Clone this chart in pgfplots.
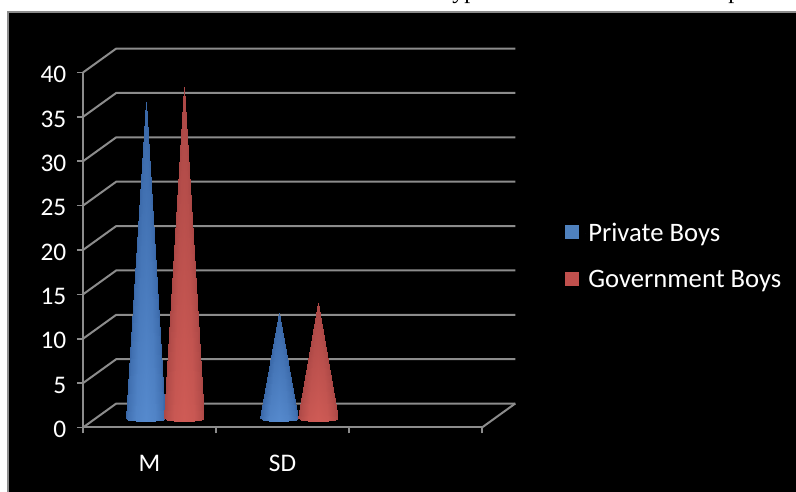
\documentclass[border=0pt]{standalone}
\usepackage{fontspec}
\setmainfont{Carlito}
\newfontfamily\capfont{Liberation Serif}
\usepackage{pgfplots}
\pgfplotsset{compat=1.18}
\definecolor{gridgray}{HTML}{8C8C8C}
\definecolor{legblue}{HTML}{4F81BD}
\definecolor{legred}{HTML}{C0504D}
\pgfplotsset{
    wall/.style={gridgray, line width=1.5pt, forget plot},
    cone/.style={
        patch, patch type=triangle, shader=interp, forget plot,
        table/row sep=\\,
        patch table={0 1 7\\ 1 2 7\\ 2 3 7\\ 3 4 7\\ 4 5 7\\ 5 6 7\\},
    },
    bluecone/.style={cone, colormap={bluecone}{rgb255=(58,104,168) rgb255=(104,160,230) rgb255=(58,104,168)}},
    redcone/.style={cone, colormap={redcone}{rgb255=(172,72,70) rgb255=(230,104,96) rgb255=(172,72,70)}},
}
\begin{document}
\begin{tikzpicture}[x=0.75pt, y=0.75pt]
% page in px, origin at the front corner of the chart
\useasboundingbox (-83,-64.5) rectangle (713,427.5);
\fill[white] (-83,-64.5) rectangle (713,427.5);
\fill[black, draw=gridgray, line width=1pt] (-75,-70) rectangle (720,415.5);
\node[font=\capfont\fontsize{18}{18}\selectfont, anchor=base west, text=black, inner sep=0pt] at (369,428.5) {yp};
\node[font=\capfont\fontsize{18}{18}\selectfont, anchor=base west, text=black, inner sep=0pt] at (645,428.5) {p};
\begin{axis}[
    at={(0,0)},
    anchor=south west,
    scale only axis,
    width=299.25pt,
    height=266.25pt,
    xmin=0, xmax=3,
    ymin=0, ymax=40,
    clip=false,
    point meta min=0, point meta max=1,
    axis x line*=bottom,
    axis y line*=left,
    axis line style={gridgray, line width=1.5pt},
    major tick style={gridgray, line width=1.2pt},
    tick align=outside,
    major tick length=4.5pt,
    xtick={0,1,2,3},
    xticklabels={M,SD,{}},
    x tick label as interval,
    ytick={0,5,10,15,20,25,30,35,40},
    /pgf/number format/assume math mode=true,
    tick label style={text=white, font=\fontsize{19}{19}\selectfont},
    x tick label style={yshift=-12.5pt},
    y tick label style={xshift=-4.5pt, yshift=-1.5pt},
    legend image code/.code={
        \path (0pt,0pt) -- (15.75pt,0pt);
        \fill[#1] (0pt,-5pt) rectangle (11.25pt,6.25pt);
    },
    legend style={
        at={(1.195,0.483)}, anchor=west,
        draw=none, fill=none,
        text=white, font=\fontsize{20}{20}\selectfont,
        row sep=16pt,
    },
    legend cell align=left,
]
% back wall and floor
\addplot[wall] coordinates {(0,0) (0.25,2.7) (3.25,2.7)};
\addplot[wall] coordinates {(3,0) (3.25,2.7)};
\addplot[wall] coordinates {(0,5) (0.25,7.7) (3.25,7.7)};
\addplot[wall] coordinates {(0,10) (0.25,12.7) (3.25,12.7)};
\addplot[wall] coordinates {(0,15) (0.25,17.7) (3.25,17.7)};
\addplot[wall] coordinates {(0,20) (0.25,22.7) (3.25,22.7)};
\addplot[wall] coordinates {(0,25) (0.25,27.7) (3.25,27.7)};
\addplot[wall] coordinates {(0,30) (0.25,32.7) (3.25,32.7)};
\addplot[wall] coordinates {(0,35) (0.25,37.7) (3.25,37.7)};
\addplot[wall] coordinates {(0,40) (0.25,42.7) (3.25,42.7)};
% cones: base rim left to right, then the tip
\addplot[bluecone] table[meta=c] {
x y c\\
0.323 1.1 0\\
0.342 0.9 0.065\\
0.397 0.75 0.25\\
0.470 0.7 0.5\\
0.543 0.75 0.75\\
0.598 0.9 0.935\\
0.617 1.1 1\\
0.470 36.7 0.5\\
};
\addplot[redcone] table[meta=c] {
x y c\\
0.609 1.1 0\\
0.629 0.9 0.065\\
0.684 0.75 0.25\\
0.759 0.7 0.5\\
0.834 0.75 0.75\\
0.889 0.9 0.935\\
0.909 1.1 1\\
0.759 38.4 0.5\\
};
\addplot[bluecone] table[meta=c] {
x y c\\
1.331 1.1 0\\
1.350 0.9 0.065\\
1.400 0.75 0.25\\
1.474 0.7 0.5\\
1.545 0.75 0.75\\
1.598 0.9 0.935\\
1.617 1.1 1\\
1.474 12.9 0.5\\
};
\addplot[redcone] table[meta=c] {
x y c\\
1.617 1.1 0\\
1.637 0.9 0.065\\
1.692 0.75 0.25\\
1.767 0.7 0.5\\
1.842 0.75 0.75\\
1.897 0.9 0.935\\
1.917 1.1 1\\
1.767 14.0 0.5\\
};
% legend
\addlegendimage{fill=legblue}
\addlegendentry{Private Boys}
\addlegendimage{fill=legred}
\addlegendentry{Government Boys}
\end{axis}
\end{tikzpicture}
\end{document}
